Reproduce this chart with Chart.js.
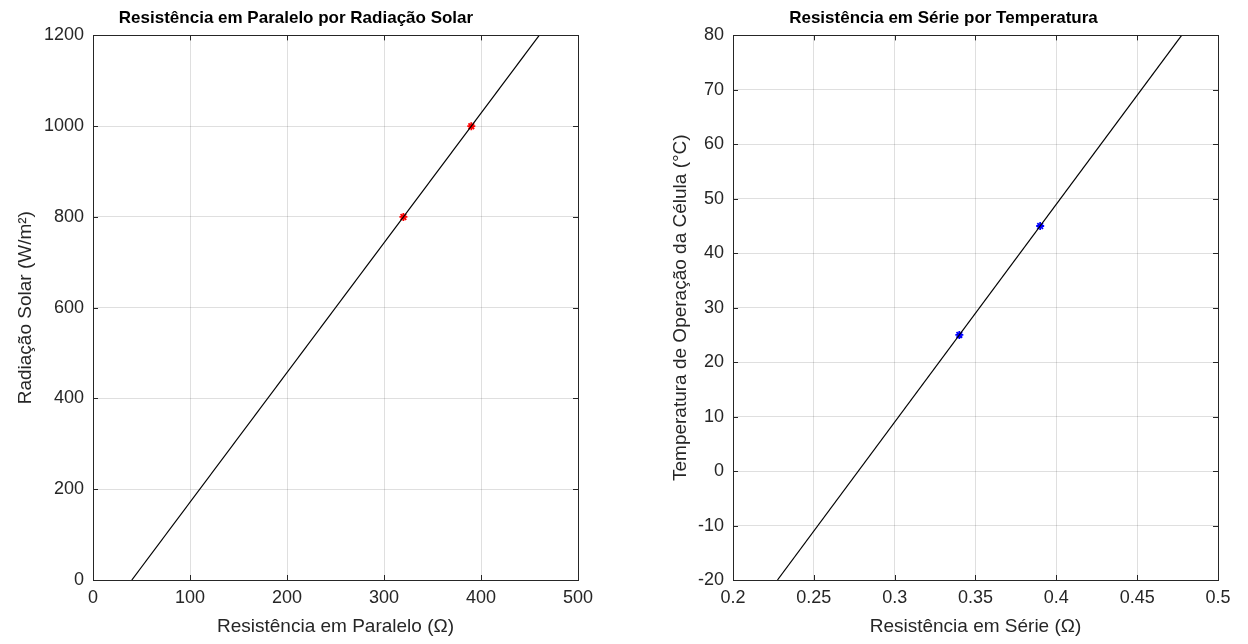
<!DOCTYPE html>
<html>
<head>
<meta charset="utf-8">
<script src="https://cdn.jsdelivr.net/npm/chart.js@4/dist/chart.umd.min.js"></script>
<style>
  html, body { margin: 0; padding: 0; background: #fff; }
  canvas { position: absolute; top: 0; }
</style>
</head>
<body>
<canvas id="parChart" width="624" height="644" style="left:0"></canvas>
<canvas id="serChart" width="624" height="644" style="left:624px"></canvas>
<script>
// left plot: parallel resistance vs solar radiation
var parLineR = [40, 460];
var parLineG = [0, 1200];
var parPointsR = [320, 390];
var parPointsG = [800, 1000];

// right plot: series resistance vs temperature
var serLineR = [0.2275, 0.4775];
var serLineT = [-20, 80];
var serPointsR = [0.34, 0.39];
var serPointsT = [25, 45];

var axisColor = '#262626';
var gridColor = 'rgba(38,38,38,0.15)';
var fontFam = '"Liberation Sans", Arial, Helvetica, sans-serif';

function pairs(xs, ys) {
  return xs.map(function(x, i) { return {x: x, y: ys[i]}; });
}

function fmt(v) { return String(Number(v.toFixed(2))); }

// box around the axes + inward tick marks (matlab look)
var boxPlugin = {
  id: 'box',
  afterDraw: function(chart) {
    var ctx = chart.ctx, a = chart.chartArea;
    var xs = chart.scales.x, ys = chart.scales.y;
    ctx.save();
    ctx.strokeStyle = axisColor;
    ctx.lineWidth = 1;
    ctx.beginPath();
    xs.ticks.forEach(function(t) {
      var px = Math.round(xs.getPixelForValue(t.value)) + 0.5;
      ctx.moveTo(px, a.bottom); ctx.lineTo(px, a.bottom - 5);
      ctx.moveTo(px, a.top); ctx.lineTo(px, a.top + 5);
    });
    ys.ticks.forEach(function(t) {
      var py = Math.round(ys.getPixelForValue(t.value)) + 0.5;
      ctx.moveTo(a.left, py); ctx.lineTo(a.left + 5, py);
      ctx.moveTo(a.right, py); ctx.lineTo(a.right - 5, py);
    });
    ctx.stroke();
    ctx.strokeRect(Math.round(a.left) + 0.5, Math.round(a.top) + 0.5,
                   Math.round(a.right - a.left), Math.round(a.bottom - a.top));
    ctx.restore();
  }
};

function makeChart(id, cfg) {
  var ctx = document.getElementById(id).getContext('2d');
  return new Chart(ctx, {
    type: 'scatter',
    data: {
      datasets: [{
        data: pairs(cfg.lineX, cfg.lineY),
        showLine: true,
        borderColor: '#000',
        borderWidth: 1.2,
        pointRadius: 0
      }, {
        data: pairs(cfg.ptX, cfg.ptY),
        showLine: false,
        pointStyle: 'star',
        pointRadius: 4,
        borderWidth: 1.8,
        borderColor: cfg.ptColor,
        backgroundColor: cfg.ptColor
      }]
    },
    options: {
      responsive: false,
      animation: false,
      layout: { padding: { left: cfg.padLeft, right: cfg.padRight, top: 0, bottom: 0 } },
      plugins: {
        legend: { display: false },
        tooltip: { enabled: false },
        title: {
          display: true,
          text: cfg.title,
          color: '#000',
          font: { family: fontFam, size: 17, weight: 'bold' },
          padding: { top: 8, bottom: 7 }
        }
      },
      scales: {
        x: {
          type: 'linear',
          min: cfg.xMin, max: cfg.xMax,
          afterFit: function(s) { s.height = 64; },
          grid: { color: gridColor, drawTicks: false },
          border: { display: false },
          ticks: {
            stepSize: cfg.xStep,
            color: axisColor,
            padding: 7,
            font: { family: fontFam, size: 18 },
            callback: fmt
          },
          title: {
            display: true,
            text: cfg.xTitle,
            color: axisColor,
            font: { family: fontFam, size: 19 },
            padding: { top: 0, bottom: 6 }
          }
        },
        y: {
          type: 'linear',
          min: cfg.yMin, max: cfg.yMax,
          afterFit: function(s) { s.width = cfg.yWidth; },
          grid: { color: gridColor, drawTicks: false },
          border: { display: false },
          ticks: {
            stepSize: cfg.yStep,
            color: axisColor,
            padding: 9,
            font: { family: fontFam, size: 18 },
            callback: fmt
          },
          title: {
            display: true,
            text: cfg.yTitle,
            color: axisColor,
            font: { family: fontFam, size: 19 },
            padding: { top: 0, bottom: 0 }
          }
        }
      }
    },
    plugins: [boxPlugin]
  });
}

makeChart('parChart', {
  title: 'Resistência em Paralelo por Radiação Solar',
  xTitle: 'Resistência em Paralelo (Ω)',
  yTitle: 'Radiação Solar (W/m²)',
  lineX: parLineR, lineY: parLineG,
  ptX: parPointsR, ptY: parPointsG, ptColor: '#ff0000',
  xMin: 0, xMax: 500, xStep: 100,
  yMin: 0, yMax: 1200, yStep: 200,
  padLeft: 14, padRight: 46, yWidth: 79
});

makeChart('serChart', {
  title: 'Resistência em Série por Temperatura',
  xTitle: 'Resistência em Série (Ω)',
  yTitle: 'Temperatura de Operação da Célula (°C)',
  lineX: serLineR, lineY: serLineT,
  ptX: serPointsR, ptY: serPointsT, ptColor: '#0000ff',
  xMin: 0.2, xMax: 0.5, xStep: 0.05,
  yMin: -20, yMax: 80, yStep: 10,
  padLeft: 45, padRight: 30, yWidth: 64
});
</script>
</body>
</html>
